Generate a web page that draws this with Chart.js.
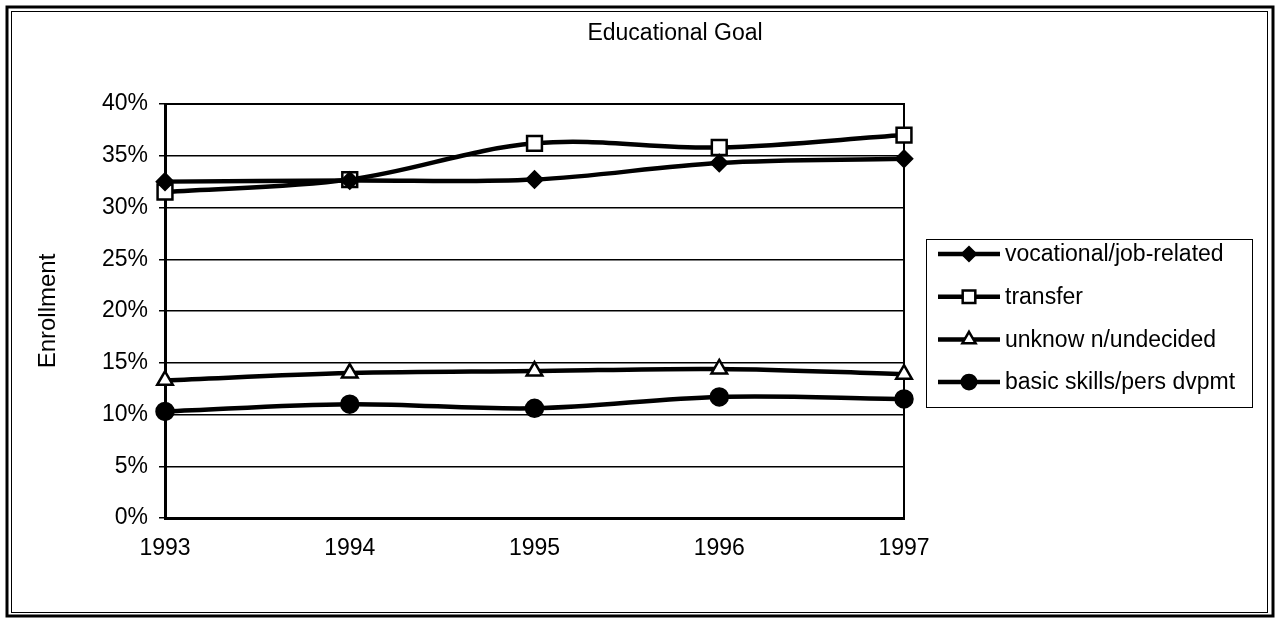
<!DOCTYPE html>
<html>
<head>
<meta charset="utf-8">
<title>Educational Goal</title>
<script src="https://cdn.jsdelivr.net/npm/chart.js@4.4.1/dist/chart.umd.min.js"></script>
<style>
  html, body { margin: 0; padding: 0; background: #fff; }
  #wrap { width: 1279px; height: 619px; position: relative; }
</style>
</head>
<body>
<div id="wrap"><canvas id="c" width="1279" height="619"></canvas></div>
<script>
// Enrollment share by educational goal, 1993-1997 (percent)
const years = ['1993', '1994', '1995', '1996', '1997'];
const vocational = [32.5, 32.6, 32.7, 34.3, 34.7];
const transfer = [31.5, 32.7, 36.2, 35.8, 37.0];
const unknownUndecided = [13.3, 14.0, 14.2, 14.4, 13.9];
const basicSkills = [10.3, 11.0, 10.6, 11.7, 11.5];
const seriesNames = ['vocational/job-related', 'transfer', 'unknow n/undecided', 'basic skills/pers dvpmt'];
const yTicks = [0, 5, 10, 15, 20, 25, 30, 35, 40];

const FONT = '"Liberation Sans", Arial, sans-serif';

function series(label, data, style, radius, fill) {
  return {
    label, data,
    borderColor: '#000',
    borderWidth: 4.5,
    tension: 0.35,
    pointStyle: style,
    pointRadius: radius,
    pointBackgroundColor: fill,
    pointBorderColor: '#000',
    pointBorderWidth: 2.5,
    clip: false
  };
}

const datasets = [
  series(seriesNames[0], vocational, 'rectRot', 8, '#000'),
  series(seriesNames[1], transfer, 'rect', 10.5, '#fff'),
  series(seriesNames[2], unknownUndecided, 'triangle', 9, '#fff'),
  series(seriesNames[3], basicSkills, 'circle', 8.5, '#000')
];

// Frame, plot border, title and legend drawn around the chart
const decorations = {
  id: 'decorations',
  beforeDraw(chart) {
    const ctx = chart.ctx;
    ctx.save();
    ctx.fillStyle = '#fff';
    ctx.fillRect(0, 0, chart.width, chart.height);
    ctx.restore();
  },
  beforeDatasetsDraw(chart) {
    const { ctx, chartArea: a } = chart;
    ctx.save();
    ctx.strokeStyle = '#000';
    ctx.lineWidth = 2;
    ctx.beginPath();
    ctx.moveTo(a.left, a.top);
    ctx.lineTo(a.right, a.top);
    ctx.lineTo(a.right, a.bottom);
    ctx.stroke();
    ctx.restore();
  },
  afterDraw(chart) {
    const ctx = chart.ctx;
    ctx.save();
    // outer double frame
    ctx.strokeStyle = '#000';
    ctx.lineWidth = 3;
    ctx.strokeRect(7, 7, 1266, 609);
    ctx.lineWidth = 1;
    ctx.strokeRect(11.5, 11.5, 1256, 601);

    // title
    ctx.fillStyle = '#000';
    ctx.font = '23px ' + FONT;
    ctx.textAlign = 'center';
    ctx.textBaseline = 'middle';
    ctx.fillText('Educational Goal', 675, 34);

    // legend
    ctx.lineWidth = 1;
    ctx.strokeRect(926.5, 239.5, 326, 168);
    ctx.textAlign = 'left';
    chart.data.datasets.forEach((ds, i) => {
      const y = 254 + i * 42.7;
      ctx.strokeStyle = '#000';
      ctx.lineWidth = 4.5;
      ctx.beginPath();
      ctx.moveTo(938, y);
      ctx.lineTo(1000, y);
      ctx.stroke();
      ctx.fillStyle = ds.pointBackgroundColor;
      ctx.strokeStyle = '#000';
      ctx.lineWidth = 2.5;
      Chart.helpers.drawPoint(ctx, {
        pointStyle: ds.pointStyle,
        radius: ds.pointRadius * 0.85,
        rotation: 0,
        borderWidth: 2.5
      }, 969, y);
      ctx.fillStyle = '#000';
      ctx.font = '23px ' + FONT;
      ctx.fillText(ds.label, 1005, y + 1);
    });
    ctx.restore();
  }
};

new Chart(document.getElementById('c'), {
  type: 'line',
  data: { labels: years, datasets },
  plugins: [decorations],
  options: {
    responsive: false,
    animation: false,
    devicePixelRatio: 1,
    layout: { padding: { left: 26, right: 375, top: 104, bottom: 0 } },
    plugins: {
      legend: { display: false },
      title: { display: false },
      tooltip: { enabled: false }
    },
    scales: {
      x: {
        offset: false,
        afterFit(scale) { scale.height = 101; },
        grid: { display: true, drawOnChartArea: false, drawTicks: false },
        border: { display: true, color: '#000', width: 3 },
        ticks: {
          color: '#000',
          font: { family: FONT, size: 23 },
          padding: 17,
          maxRotation: 0,
          autoSkip: false
        }
      },
      y: {
        min: 0,
        max: 40,
        afterFit(scale) { scale.width = 139; },
        afterBuildTicks(scale) { scale.ticks = yTicks.map(v => ({ value: v })); },
        grid: { color: '#000', lineWidth: 1.5, tickLength: 6, drawTicks: true },
        border: { display: true, color: '#000', width: 3 },
        ticks: {
          color: '#000',
          font: { family: FONT, size: 23 },
          padding: 11,
          callback: v => v + '%'
        },
        title: {
          display: true,
          text: 'Enrollment',
          color: '#000',
          font: { family: FONT, size: 24 },
          padding: { top: 8, bottom: 0 }
        }
      }
    }
  }
});
</script>
</body>
</html>
